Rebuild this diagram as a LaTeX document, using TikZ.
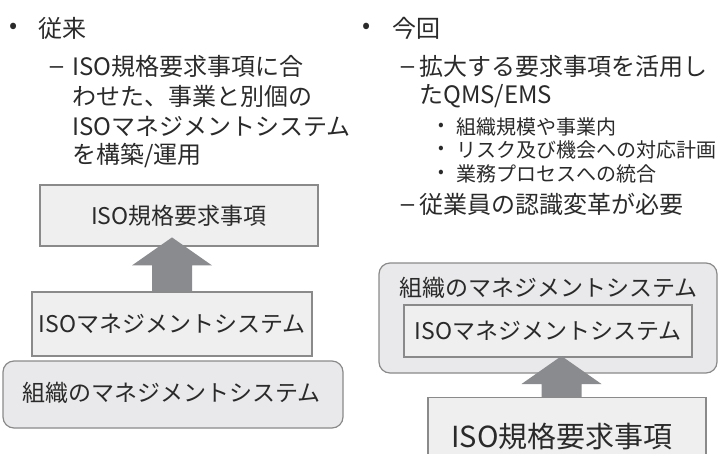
\documentclass[tikz,border=0pt]{standalone}
\usepackage{fontspec}
\setmainfont{Noto Sans CJK JP}
\newfontfamily\dashfont{Liberation Sans}
\begin{document}
\begin{tikzpicture}[x=1pt,y=-1pt,
  txt/.style={inner sep=0pt,anchor=west,text=textc,font=\fontsize{24}{24}\selectfont},
  subtxt/.style={inner sep=0pt,anchor=west,text=textc,font=\fontsize{20}{20}\selectfont},
  bul/.style={inner sep=0pt,text=textc,font=\fontsize{24}{24}\selectfont},
  dsh/.style={inner sep=0pt,anchor=base,text=textc,font=\dashfont\fontsize{24}{24}\selectfont},
  sbul/.style={inner sep=0pt,text=textc,font=\fontsize{17}{17}\selectfont},
  sqbox/.style={draw=linec,line width=1.2pt,fill=boxfill,inner sep=0pt,text=textc,font=\fontsize{23}{23}\selectfont},
  rbox/.style={draw=linec,line width=1.2pt,fill=rboxfill,rounded corners=11pt,inner sep=0pt},
  arr/.style={fill=arrc,draw=none},
  lbl/.style={inner sep=0pt,text=textc,font=\fontsize{23}{23}\selectfont}]
\definecolor{textc}{HTML}{2A2A2A}
\definecolor{linec}{HTML}{8A8A8A}
\definecolor{boxfill}{HTML}{EFEFEF}
\definecolor{rboxfill}{HTML}{E9E9EB}
\definecolor{arrc}{HTML}{8A8B8F}
\useasboundingbox (0,0) rectangle (718,453);
% left list
\node[bul] (lb1) at (14,28) {•};
\node[txt] (lt0) at (38,28) {従来};
\node[dsh] (ld1) at (56.5,73) {–};
\node[txt] (lt1) at (72,66) {ISO規格要求事項に合};
\node[txt] (lt2) at (72,96) {わせた、事業と別個の};
\node[txt] (lt3) at (72,126) {ISOマネジメントシステム};
\node[txt] (lt4) at (72,156) {を構築/運用};
% left boxes
\node[sqbox,minimum width=278pt,minimum height=61pt] (b1) at (179,215.5) {ISO規格要求事項};
\node[sqbox,minimum width=280pt,minimum height=64pt] (b2) at (172,324) {ISOマネジメントシステム};
\node[rbox,minimum width=340pt,minimum height=67pt] (b3) at (173,394.5) {};
\node[lbl,anchor=west] (b3t) at (22,393) {組織のマネジメントシステム};
% right list
\node[bul] (rb1) at (367,28) {•};
\node[txt] (rt0) at (392,28) {今回};
\node[dsh] (rd1) at (407.5,73) {–};
\node[txt] (rt1) at (419,66) {拡大する要求事項を活用し};
\node[txt] (rt2) at (419,96) {たQMS/EMS};
\node[sbul] (rs1) at (441,127) {•};
\node[subtxt] (rst1) at (456,127) {組織規模や事業内};
\node[sbul] (rs2) at (441,150) {•};
\node[subtxt] (rst2) at (456,150) {リスク及び機会への対応計画};
\node[sbul] (rs3) at (441,174) {•};
\node[subtxt] (rst3) at (456,174) {業務プロセスへの統合};
\node[dsh] (rd2) at (407.5,211) {–};
\node[txt] (rt3) at (419,204) {従業員の認識変革が必要};
% right boxes
\node[rbox,minimum width=338pt,minimum height=110pt] (o1) at (548,318) {};
\node[lbl,anchor=west] (o1t) at (399,288) {組織のマネジメントシステム};
\node[sqbox,minimum width=288pt,minimum height=52pt] (i1) at (548,331) {ISOマネジメントシステム};
\node[sqbox,minimum width=278pt,minimum height=80pt,anchor=north] (b4) at (567,397) {};
\node[inner sep=0pt,text=textc,font=\fontsize{29}{29}\selectfont] (b4t) at (562,437) {ISO規格要求事項};
% arrows
\coordinate (a1) at (b2.north);
\fill[arr] (a1) +(-20,0) -- +(-20,-26) -- +(-40,-26) -- +(0,-54) -- +(40,-26) -- +(20,-26) -- +(20,0) -- cycle;
\coordinate (a2) at (b4.north -| 561.5,0);
\fill[arr] (a2) +(-20,0) -- +(-20,-13) -- +(-40,-13) -- +(0,-41) -- +(40,-13) -- +(20,-13) -- +(20,0) -- cycle;
\end{tikzpicture}
\end{document}
